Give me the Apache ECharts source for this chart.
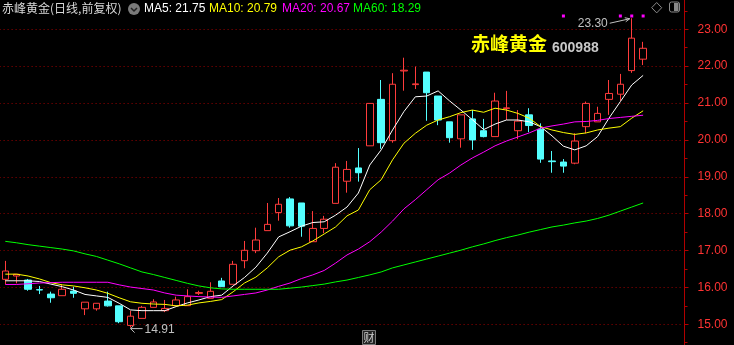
<!DOCTYPE html>
<html><head><meta charset="utf-8">
<script src="https://cdn.jsdelivr.net/npm/echarts@6/dist/echarts.min.js"></script>
<style>html,body{margin:0;padding:0;background:#000;}#c{width:734px;height:345px;}</style>
</head><body><div id="c"></div>
<script>
const categories = ['1','2','3','4','5','6','7','8','9','10','11','12','13','14','15','16','17','18','19','20','21','22','23','24','25','26','27','28','29','30','31','32','33','34','35','36','37','38','39','40','41','42','43','44','45','46','47','48','49','50','51','52','53','54','55','56','57'];
const openP  = [16.22,16.31,16.20,15.94,15.82,15.776,15.90,15.42,15.42,15.63,15.50,14.97,15.16,15.46,15.37,15.505,15.505,15.84,15.705,16.175,16.085,16.725,16.996,17.54,18.03,18.40,18.29,17.24,17.60,18.28,18.88,19.24,19.84,21.10,19.98,21.87,21.50,21.84,21.19,20.49,20.03,20.57,20.25,20.09,20.85,20.25,20.68,20.29,19.43,19.40,19.37,20.36,20.49,21.10,21.24,21.88,22.19];
const closeP = [16.445,16.356,15.95,15.93,15.72,15.95,15.84,15.60,15.57,15.50,15.07,15.22,15.46,15.605,15.43,15.66,15.75,15.86,15.895,16.02,16.627,17.007,17.286,17.71,18.255,17.67,17.66,17.60,17.85,19.26,19.20,19.11,20.99,19.925,21.51,21.89,21.52,21.28,20.54,20.06,20.68,20.00,20.09,21.055,20.87,20.51,20.39,19.48,19.41,19.29,19.97,20.99,20.72,21.26,21.51,22.76,22.485];
const lowP   = [16.085,16.11,15.91,15.82,15.585,15.776,15.72,15.25,15.37,15.48,15.03,14.91,15.16,15.46,15.33,15.505,15.505,15.795,15.705,16.02,16.085,16.52,16.93,17.54,17.81,17.62,17.375,17.24,17.47,18.28,18.57,18.87,19.84,19.76,19.925,21.335,21.38,20.52,20.40,19.925,19.79,19.73,20.07,20.09,20.54,20.02,20.21,19.38,19.11,19.11,19.34,20.18,20.49,20.68,21.06,21.82,22.03];
const highP  = [16.72,16.36,16.23,16.04,15.885,16.085,16.02,15.60,15.57,15.885,15.50,15.37,15.50,15.68,15.66,15.75,15.95,15.91,16.14,16.26,16.72,17.26,17.62,18.29,18.425,18.45,18.29,18.07,17.94,19.37,19.43,19.78,20.99,21.625,21.81,22.23,21.99,21.84,21.19,20.49,20.68,20.81,20.57,21.28,21.33,20.81,20.86,20.45,19.70,19.48,20.18,21.04,20.90,21.625,21.79,23.30,22.66];
const ma5  = [16.18,16.18,16.18,16.16,16.09,16.02,15.93,15.81,15.77,15.73,15.57,15.39,15.37,15.37,15.37,15.48,15.58,15.66,15.75,15.79,16.04,16.27,16.55,16.93,17.37,17.51,17.66,17.76,17.78,17.96,18.18,18.56,19.32,19.73,20.27,20.77,21.17,21.19,21.33,21.06,20.81,20.55,20.28,20.43,20.54,20.54,20.49,20.36,20.11,19.83,19.73,19.84,20.09,20.59,21.04,21.49,21.75];
const ma10 = [16.36,16.36,16.31,16.23,16.13,16.07,16.04,15.99,15.93,15.84,15.72,15.61,15.57,15.55,15.54,15.50,15.52,15.58,15.62,15.67,15.88,16.12,16.28,16.53,16.83,17.01,17.10,17.26,17.45,17.64,17.94,18.10,18.65,18.92,19.46,19.91,20.18,20.40,20.54,20.63,20.74,20.81,20.75,20.86,20.81,20.72,20.59,20.36,20.27,20.20,20.15,20.19,20.27,20.32,20.36,20.59,20.79];
const ma20 = [16.08,16.08,16.10,16.12,16.13,16.14,16.14,16.14,16.14,16.14,16.07,16.01,15.97,15.93,15.85,15.79,15.77,15.75,15.74,15.73,15.77,15.81,15.85,15.93,16.03,16.12,16.24,16.34,16.46,16.66,16.88,17.04,17.24,17.50,17.80,18.13,18.38,18.65,18.92,19.10,19.32,19.51,19.67,19.84,19.97,20.08,20.19,20.32,20.38,20.43,20.49,20.50,20.53,20.58,20.61,20.64,20.67];
const ma60 = [17.25,17.21,17.16,17.12,17.08,17.04,16.99,16.91,16.84,16.74,16.64,16.53,16.42,16.35,16.27,16.19,16.11,16.04,15.99,15.96,15.95,15.95,15.95,15.95,15.95,15.98,16.01,16.05,16.09,16.15,16.20,16.27,16.34,16.42,16.53,16.61,16.69,16.77,16.85,16.93,17.01,17.10,17.18,17.27,17.35,17.42,17.50,17.57,17.64,17.69,17.75,17.80,17.87,17.96,18.07,18.18,18.29];
const signalIdx = [49,54,55,56];
const maNames = ['MA5','MA10','MA20','MA60'];
const stockName = '赤峰黄金';
const stockCode = '600988';
const periodText = '(日线,前复权)';

const chart = echarts.init(document.getElementById('c'));
const cats = categories.concat(['', '', '']);
const kdata = categories.map((_, i) => [openP[i], closeP[i], lowP[i], highP[i]]);
const maColors = ['#ffffff', '#ffff00', '#ff00ff', '#00ff00'];
const maData = [ma5, ma10, ma20, ma60];
const numFont = 'Liberation Sans, Arial, sans-serif';

chart.setOption({
  backgroundColor: '#000',
  animation: false,
  grid: {left: -0.4, right: 51, top: -7.575, bottom: -16.175, outerBoundsMode: 'none', containLabel: false},
  xAxis: {type: 'category', data: cats, boundaryGap: true,
    axisLine: {show: false}, axisTick: {show: false}, axisLabel: {show: false}, splitLine: {show: false}},
  yAxis: {type: 'value', position: 'right', min: 14, max: 24, interval: 1, offset: 1.5,
    axisLine: {show: true, lineStyle: {color: '#b00000', width: 1}},
    axisTick: {show: true, length: 4, lineStyle: {color: '#b00000'}},
    minorTick: {show: true, splitNumber: 2, length: 3, lineStyle: {color: '#b00000'}},
    axisLabel: {color: '#ff3333', fontSize: 12, fontFamily: numFont, margin: 13,
      formatter: v => v.toFixed(2)},
    splitLine: {show: true, lineStyle: {color: '#9a0000', width: 1, type: [1, 3]}}},
  series: [
    {type: 'candlestick', data: kdata, barWidth: 7, z: 2,
      itemStyle: {color: '#000', color0: '#54ffff', borderColor: '#ff3c3c', borderColor0: '#54ffff', borderWidth: 1}},
  ].concat(maData.map((d, k) => ({
    type: 'line', name: maNames[k], data: d, symbol: 'none', z: 3, smooth: false,
    lineStyle: {color: maColors[k], width: 1}
  })))
});

let hiIdx = 0, loIdx = 0;
highP.forEach((v, i) => { if (v > highP[hiIdx]) hiIdx = i; });
lowP.forEach((v, i) => { if (v < lowP[loIdx]) loIdx = i; });
const hp = chart.convertToPixel({seriesIndex: 0}, [hiIdx, highP[hiIdx]]);
const lp = chart.convertToPixel({seriesIndex: 0}, [loIdx, lowP[loIdx]]);
const g = [];
const lastVals = maData.map(d => d[d.length - 1]);
g.push({type: 'text', left: 2, top: 2, style: {text: stockName + periodText, fill: '#d8d8d8', font: '12px "Noto Sans CJK SC"'}});
g.push({type: 'circle', shape: {cx: 134, cy: 9, r: 6}, style: {fill: '#7a7a7a'}});
g.push({type: 'polyline', shape: {points: [[131, 8], [134, 11], [137, 8]]}, style: {stroke: '#222', lineWidth: 1.5, fill: null}});
const maX = [144, 209, 282, 353];
maNames.forEach((n, k) => {
  g.push({type: 'text', x: maX[k], y: 3, style: {text: n + ': ' + lastVals[k].toFixed(2), fill: maColors[k], font: '12px ' + numFont}});
});
g.push({type: 'text', x: 471, y: 34, style: {text: stockName, fill: '#ffff00', font: 'bold 19px "Noto Sans CJK SC"'}});
g.push({type: 'text', x: 552, y: 41, style: {text: stockCode, fill: '#c8c8c8', font: 'bold 14px ' + numFont}});
g.push({type: 'polygon', shape: {points: [[656.7, 2.5], [661.7, 7.7], [656.7, 12.9], [651.7, 7.7]]}, style: {stroke: '#8a8a8a', fill: null, lineWidth: 1}});
g.push({type: 'rect', shape: {x: 669.5, y: 2, width: 10, height: 10, r: 2}, style: {stroke: '#8a8a8a', fill: null, lineWidth: 1}});
g.push({type: 'rect', shape: {x: 674, y: 3, width: 4.5, height: 8}, style: {fill: '#8a8a8a'}});
signalIdx.forEach(i => {
  const p = chart.convertToPixel({seriesIndex: 0}, [i, highP[i]]);
  g.push({type: 'rect', shape: {x: p[0] - 1.5, y: 14.5, width: 3, height: 3}, style: {fill: '#ff00ff'}});
});
g.push({type: 'text', x: hp[0] - 24, y: hp[1] + 5, style: {text: highP[hiIdx].toFixed(2), fill: '#c0c0c0', font: '12px ' + numFont, align: 'right', verticalAlign: 'middle'}});
g.push({type: 'line', shape: {x1: hp[0] - 22, y1: hp[1] + 5, x2: hp[0] - 2, y2: hp[1] + 0.5}, style: {stroke: '#c0c0c0', lineWidth: 1}});
g.push({type: 'polyline', shape: {points: [[hp[0] - 7, hp[1] - 0.5], [hp[0] - 2, hp[1] + 0.5], [hp[0] - 6, hp[1] + 3.5]]}, style: {stroke: '#c0c0c0', fill: null, lineWidth: 1}});
g.push({type: 'line', shape: {x1: lp[0], y1: lp[1] + 1, x2: lp[0] + 12, y2: lp[1] + 1}, style: {stroke: '#c0c0c0', lineWidth: 1}});
g.push({type: 'polyline', shape: {points: [[lp[0] + 4, lp[1] - 3], [lp[0], lp[1] + 1], [lp[0] + 4, lp[1] + 5]]}, style: {stroke: '#c0c0c0', fill: null, lineWidth: 1}});
g.push({type: 'text', x: lp[0] + 14, y: lp[1] + 2.5, style: {text: lowP[loIdx].toFixed(2), fill: '#c0c0c0', font: '12px ' + numFont, verticalAlign: 'middle'}});
g.push({type: 'rect', shape: {x: 362.5, y: 330.5, width: 13, height: 14}, style: {stroke: '#7a7a7a', fill: '#222', lineWidth: 1}});
g.push({type: 'text', x: 369, y: 338, style: {text: '财', fill: '#cfcfcf', font: '11px "Noto Sans CJK SC"', align: 'center', verticalAlign: 'middle'}});
chart.setOption({graphic: g});
</script></body></html>
